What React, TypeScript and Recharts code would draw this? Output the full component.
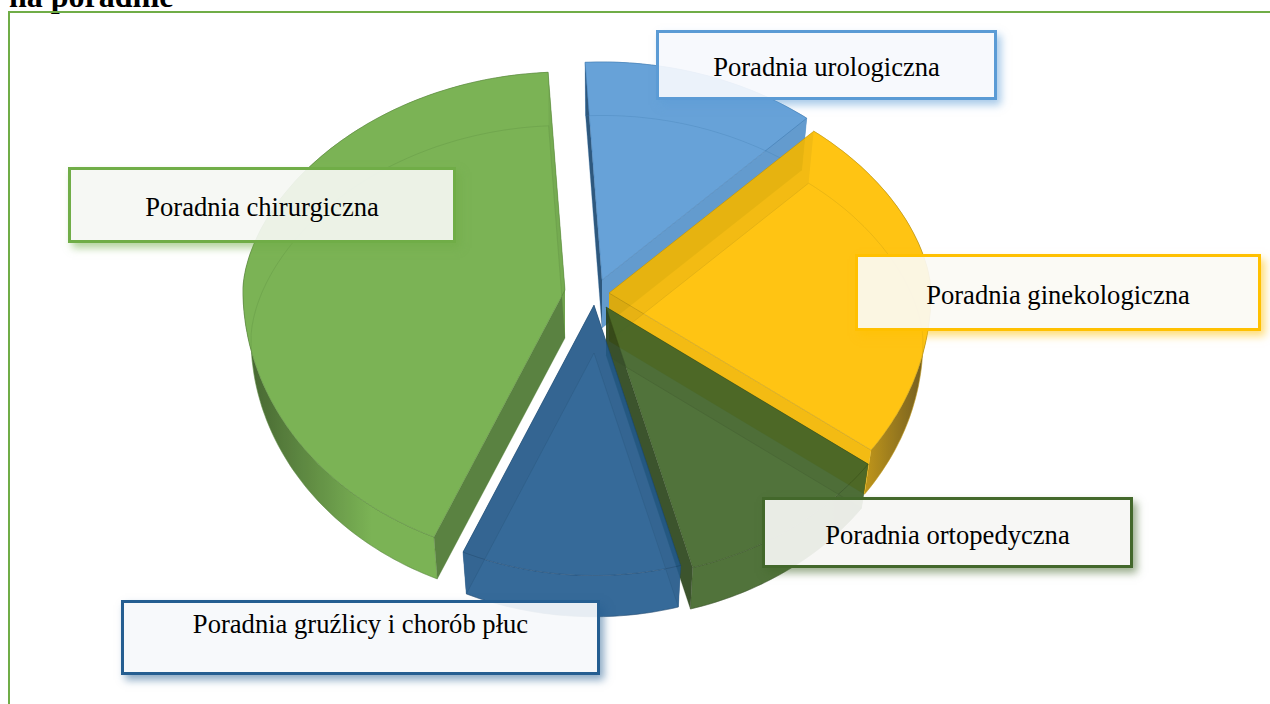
import { PieChart, Pie } from "recharts";

const categories = [
  "Poradnia urologiczna",
  "Poradnia ginekologiczna",
  "Poradnia ortopedyczna",
  "Poradnia gruźlicy i chorób płuc",
  "Poradnia chirurgiczna",
];
const values = [11.8, 23.9, 10.8, 11.0, 42.5];
const data = categories.map((name, i) => ({ name, value: values[i] }));

// style + layout, per slice
const colors = ["#5B9BD5", "#FFC000", "#43682B", "#255E91", "#70AD47"];
const startWalls = ["#1f4e79", "#FFC000", "#43682B", "#255E91", "#527f34"];
const endWalls = ["#5B9BD5", "#FFC000", "#2f4a1e", "#255E91", "#70AD47"];
const edgeColors = ["#2e6eaa", "#b58a00", "#2a4519", "#164068", "#4d7c2f"];
const darkEnds = ["#2d5f8f", "#5f4a10", "#2a4519", "#1c4a75", "#35561f"];
const tints = [
  "rgba(246,249,253,0.92)",
  "rgba(251,250,244,0.92)",
  "rgba(246,246,244,0.92)",
  "rgba(246,248,251,0.92)",
  "rgba(245,247,243,0.92)",
];
const explode = [
  [2, -20],
  [9, -7],
  [6, 7],
  [-6, 5],
  [-35, -10],
];
const boxes = [
  { x: 656, y: 30, w: 341, h: 70, pad: 4, right: 0 },
  { x: 855, y: 254, w: 406, h: 77, pad: 5, right: 0 },
  { x: 762, y: 497, w: 371, h: 71, pad: 5, right: 0 },
  { x: 121, y: 600, w: 479, h: 75, pad: 4, right: 0, top: true },
  { x: 68, y: 167, w: 388, h: 76, pad: 3, right: 0 },
];

const RY_TOP = 0.677;
const RY_BOTTOM = 0.84;
const TOP_POWER = 1.15; // flattens the far half a bit, like the perspective of the original
const DEPTH = 48;
const BOTTOM_SCALE = 0.975;

const SliceShape = (props: any) => {
  const { cx, cy, outerRadius, startAngle, endAngle, payload, name } = props;
  const i = categories.indexOf(payload?.name ?? name);
  const ax = cx + explode[i][0];
  const ay = cy + explode[i][1];

  // recharts angles -> clockwise from 12 o'clock, squashed into the tilted ellipse
  const pt = (deg: number, lower: boolean) => {
    const t = ((90 - deg) * Math.PI) / 180;
    const s = lower ? BOTTOM_SCALE : 1;
    const c = Math.cos(t);
    const dy = c > 0 ? RY_TOP * Math.pow(c, TOP_POWER) : RY_BOTTOM * c;
    return [ax + outerRadius * s * Math.sin(t), ay + (lower ? DEPTH : 0) - outerRadius * s * dy];
  };
  const arc = (lower: boolean, reverse = false) => {
    const pts: number[][] = [];
    const n = Math.ceil(Math.abs(endAngle - startAngle));
    for (let k = 0; k <= n; k++) {
      pts.push(pt(startAngle + ((endAngle - startAngle) * k) / n, lower));
    }
    if (reverse) pts.reverse();
    return pts.map((p) => `${p[0].toFixed(1)} ${p[1].toFixed(1)}`).join(" L");
  };
  const topApex = `${ax} ${ay}`;
  const lowApex = `${ax} ${ay + DEPTH}`;
  const a0 = pt(startAngle, false).map((v) => v.toFixed(1)).join(" ");
  const a1 = pt(endAngle, false).map((v) => v.toFixed(1)).join(" ");
  const b0 = pt(startAngle, true).map((v) => v.toFixed(1)).join(" ");
  const b1 = pt(endAngle, true).map((v) => v.toFixed(1)).join(" ");
  const gid = `wall${i}`;

  return (
    <g opacity={0.92}>
      <defs>
        <linearGradient
          id={gid}
          gradientUnits="userSpaceOnUse"
          x1={ax - outerRadius}
          x2={ax + outerRadius}
          y1={0}
          y2={0}
        >
          <stop offset="0" stopColor={darkEnds[i]} />
          <stop offset="0.2" stopColor={colors[i]} />
          <stop offset="0.82" stopColor={colors[i]} />
          <stop offset="1" stopColor={darkEnds[i]} />
        </linearGradient>
      </defs>
      {/* outer wall */}
      <path d={`M${arc(false)} L${arc(true, true)} Z`} fill={`url(#${gid})`} stroke={edgeColors[i]} strokeWidth={0.4} />
      {/* cut walls */}
      <path d={`M${topApex} L${a0} L${b0} L${lowApex} Z`} fill={startWalls[i]} />
      <path d={`M${topApex} L${a1} L${b1} L${lowApex} Z`} fill={endWalls[i]} />
      {/* top face */}
      <path d={`M${topApex} L${arc(false)} Z`} fill={colors[i]} stroke={edgeColors[i]} strokeWidth={0.5} />
      {/* see-through hints */}
      <path d={`M${topApex} L${a1} L${b1} L${lowApex} Z`} fill="#000" fillOpacity={0.05} />
      <path d={`M${topApex} L${a0} L${b0} L${lowApex} Z`} fill="#000" fillOpacity={0.05} />
      <path d={`M${lowApex} L${arc(true)} Z`} fill="none" stroke={edgeColors[i]} strokeOpacity={0.4} strokeWidth={0.7} />
    </g>
  );
};

export default function App() {
  return (
    <div
      style={{
        position: "fixed",
        left: 0,
        top: 0,
        width: 1270,
        height: 704,
        overflow: "hidden",
        background: "#fff",
        fontFamily: '"Liberation Serif", serif',
      }}
    >
      <div
        style={{
          position: "absolute",
          left: 9,
          top: -20,
          fontSize: 32,
          lineHeight: "32px",
          fontWeight: 700,
          color: "#000",
          whiteSpace: "nowrap",
        }}
      >
        na poradnie
      </div>
      <div
        style={{
          position: "absolute",
          left: 8,
          top: 11,
          width: 1300,
          height: 800,
          border: "2px solid #70AD47",
        }}
      />
      <div style={{ position: "absolute", left: 0, top: 0 }}>
        <PieChart width={1270} height={704} margin={{ top: 0, right: 0, bottom: 0, left: 0 }}>
          <Pie
            data={data}
            dataKey="value"
            nameKey="name"
            cx={600}
            cy={300}
            innerRadius={0}
            outerRadius={322}
            startAngle={93}
            endAngle={-267}
            stroke="none"
            shape={SliceShape}
            isAnimationActive={false}
          />
        </PieChart>
      </div>
      {categories.map((name, i) => (
        <div
          key={name}
          style={{
            position: "absolute",
            left: boxes[i].x,
            top: boxes[i].y,
            width: boxes[i].w,
            height: boxes[i].h,
            boxSizing: "border-box",
            border: `3px solid ${colors[i]}`,
            background: tints[i],
            boxShadow: `4px 5px 8px ${colors[i]}88`,
            display: "flex",
            alignItems: boxes[i].top ? "flex-start" : "center",
            justifyContent: "center",
            fontSize: 26.6,
            lineHeight: "34px",
            color: "#000",
            whiteSpace: "nowrap",
            paddingTop: boxes[i].pad,
          }}
        >
          {name}
        </div>
      ))}
    </div>
  );
}
